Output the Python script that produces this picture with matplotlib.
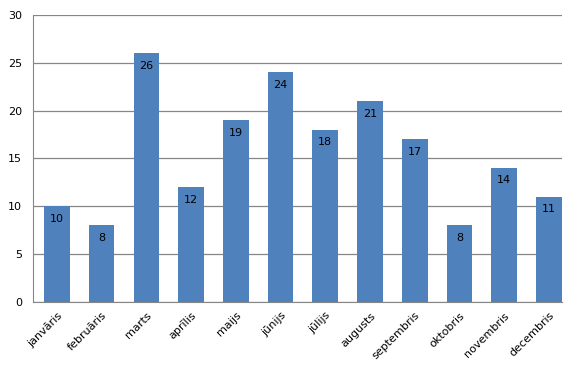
import matplotlib
matplotlib.use("Agg")
import matplotlib.pyplot as plt
import numpy as np

menesi = ["janvāris", "februāris", "marts", "aprīlis", "maijs", "jūnijs",
          "jūlijs", "augusts", "septembris", "oktobris", "novembris", "decembris"]
vertibas = [10, 8, 26, 12, 19, 24, 18, 21, 17, 8, 14, 11]

fig = plt.figure(figsize=(5.74, 3.71), dpi=100)
ax = fig.add_axes([0.0575, 0.186, 0.9216, 0.7736])

x = np.arange(len(menesi))
stabi = ax.bar(x, vertibas, width=0.575, color="#4f81bd", zorder=3)

for s, v in zip(stabi, vertibas):
    ax.text(s.get_x() + s.get_width() / 2, v - 1.3, str(v),
            ha="center", va="center", fontsize=8, color="black", zorder=4)

# pedejais stabs pieskaras labajai malai
ax.set_xlim(-0.534, 11.29)
ax.set_ylim(0, 30)
ax.set_yticks(range(0, 31, 5))
ax.yaxis.grid(True, color="#868686", linewidth=0.9, zorder=0)
ax.set_xticks(x)
ax.set_xticklabels(menesi, rotation=45, ha="right", rotation_mode="anchor", fontsize=8)
ax.tick_params(axis="y", labelsize=8, length=0, pad=8)
ax.tick_params(axis="x", length=0, pad=6)

for side in ["top", "right"]:
    ax.spines[side].set_visible(False)
ax.spines["left"].set_color("#868686")
ax.spines["bottom"].set_color("#868686")

fig.savefig("out.png", dpi=100)
